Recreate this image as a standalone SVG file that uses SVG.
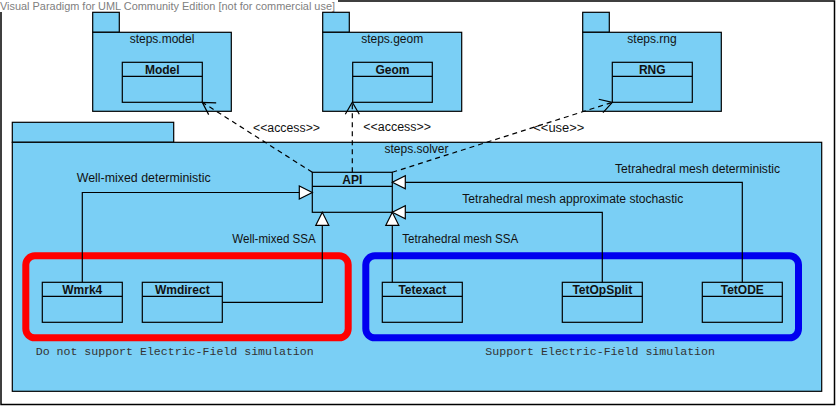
<svg xmlns="http://www.w3.org/2000/svg" width="836" height="406" viewBox="0 0 836 406">
<style>
.pkg{fill:#7ACFF5;stroke:#000;stroke-width:1.2}
.cls{fill:#7ACFF5;stroke:#000;stroke-width:1.2}
.hdr{fill:none;stroke:#000;stroke-width:1.2}
.pl{font-family:"Liberation Sans","DejaVu Sans",Arial,sans-serif;font-size:12px;fill:#111;text-anchor:middle}
.cn{font-family:"Liberation Sans","DejaVu Sans",Arial,sans-serif;font-size:12px;font-weight:bold;fill:#111;text-anchor:middle}
.lb{font-family:"Liberation Sans","DejaVu Sans",Arial,sans-serif;font-size:12px;fill:#111}
.mono{font-family:"Liberation Mono","Courier New",monospace;font-size:11.6px;fill:#333}
.gen{fill:none;stroke:#000;stroke-width:1.2;marker-end:url(#tri)}
.dep{fill:none;stroke:#000;stroke-width:1.2;stroke-dasharray:5,4;marker-end:url(#open)}
</style>
<defs>
<marker id="tri" markerUnits="userSpaceOnUse" markerWidth="20" markerHeight="20" refX="0" refY="0" orient="auto" overflow="visible">
<path d="M0,0 L-13,-6.5 L-13,6.5 Z" fill="#fff" stroke="#000" stroke-width="1.2" stroke-dasharray="none"/>
</marker>
<marker id="open" markerUnits="userSpaceOnUse" markerWidth="20" markerHeight="20" refX="0" refY="0" orient="auto" overflow="visible">
<path d="M-12,-7 L0,0 L-12,7" fill="none" stroke="#000" stroke-width="1.2" stroke-dasharray="none"/>
</marker>
</defs>
<rect x="0" y="0" width="836" height="406" fill="#fff"/>
<rect x="1" y="1" width="833.5" height="403.5" fill="none" stroke="#000" stroke-width="1.5"/>
<rect x="0" y="0" width="338" height="12" fill="#fff"/>
<text x="0" y="9.5" font-family="'Liberation Sans','DejaVu Sans',Arial,sans-serif" font-size="11.5" fill="#808080" textLength="335" lengthAdjust="spacingAndGlyphs">Visual Paradigm for UML Community Edition [not for commercial use]</text>

<g id="pkg-model">
<rect class="pkg" x="92.7" y="12.3" width="26.6" height="20"/>
<rect class="pkg" x="92.7" y="32.3" width="138.6" height="79"/>
<text class="pl" x="162" y="43.3">steps.model</text>
</g>
<g id="pkg-geom">
<rect class="pkg" x="322.7" y="12.3" width="26.6" height="20"/>
<rect class="pkg" x="322.7" y="32.3" width="139" height="79"/>
<text class="pl" x="392.2" y="43.3">steps.geom</text>
</g>
<g id="pkg-rng">
<rect class="pkg" x="582.7" y="12.3" width="26.6" height="20"/>
<rect class="pkg" x="582.7" y="32.3" width="138.6" height="79"/>
<text class="pl" x="652" y="43.3">steps.rng</text>
</g>
<g id="pkg-solver">
<rect class="pkg" x="12.3" y="122.3" width="161.4" height="20"/>
<rect class="pkg" x="12.3" y="142.3" width="809.4" height="249"/>
<text class="pl" x="416.5" y="153.3">steps.solver</text>
</g>

<g id="group-noef">
<rect x="25.8" y="255.8" width="322.4" height="82" rx="9" ry="9" fill="none" stroke="#FF0000" stroke-width="7"/>
<text class="mono" x="35.7" y="355" textLength="278" lengthAdjust="spacingAndGlyphs">Do not support Electric-Field simulation</text>
</g>
<g id="group-ef">
<rect x="365.8" y="255.8" width="432.7" height="82" rx="9" ry="9" fill="none" stroke="#0000F0" stroke-width="7"/>
<text class="mono" x="485.3" y="355" textLength="229.7" lengthAdjust="spacingAndGlyphs">Support Electric-Field simulation</text>
</g>

<g id="cls-model">
<rect class="cls" x="122.3" y="62.3" width="80" height="40"/>
<line class="hdr" x1="122.3" y1="76.3" x2="202.3" y2="76.3"/>
<text class="cn" x="162.3" y="73.5">Model</text>
</g>
<g id="cls-geom">
<rect class="cls" x="352.7" y="62.3" width="79.6" height="40"/>
<line class="hdr" x1="352.7" y1="76.3" x2="432.3" y2="76.3"/>
<text class="cn" x="392.5" y="73.5">Geom</text>
</g>
<g id="cls-rng">
<rect class="cls" x="612.3" y="62.3" width="80" height="40"/>
<line class="hdr" x1="612.3" y1="76.3" x2="692.3" y2="76.3"/>
<text class="cn" x="652.3" y="73.5">RNG</text>
</g>
<g id="cls-api">
<rect class="cls" x="312.3" y="172.3" width="80" height="40"/>
<line class="hdr" x1="312.3" y1="186.3" x2="392.3" y2="186.3"/>
<text class="cn" x="352.3" y="183.5">API</text>
</g>
<g id="cls-wmrk4">
<rect class="cls" x="42.3" y="282.3" width="80" height="40"/>
<line class="hdr" x1="42.3" y1="296.3" x2="122.3" y2="296.3"/>
<text class="cn" x="82.3" y="293.5">Wmrk4</text>
</g>
<g id="cls-wmdirect">
<rect class="cls" x="142.3" y="282.3" width="80" height="40"/>
<line class="hdr" x1="142.3" y1="296.3" x2="222.3" y2="296.3"/>
<text class="cn" x="182.3" y="293.5">Wmdirect</text>
</g>
<g id="cls-tetexact">
<rect class="cls" x="382.3" y="282.3" width="80" height="40"/>
<line class="hdr" x1="382.3" y1="296.3" x2="462.3" y2="296.3"/>
<text class="cn" x="422.3" y="293.5">Tetexact</text>
</g>
<g id="cls-tetopsplit">
<rect class="cls" x="562.3" y="282.3" width="80" height="40"/>
<line class="hdr" x1="562.3" y1="296.3" x2="642.3" y2="296.3"/>
<text class="cn" x="602.3" y="293.5">TetOpSplit</text>
</g>
<g id="cls-tetode">
<rect class="cls" x="702.3" y="282.3" width="80" height="40"/>
<line class="hdr" x1="702.3" y1="296.3" x2="782.3" y2="296.3"/>
<text class="cn" x="742.3" y="293.5">TetODE</text>
</g>

<g id="connectors">
<polyline class="gen" points="82.3,282.3 82.3,192.5 312.3,192.5"/>
<polyline class="gen" points="222.3,302.3 322.3,302.3 322.3,212.3"/>
<polyline class="gen" points="392.3,282.3 392.3,212.3"/>
<polyline class="gen" points="602.3,282.3 602.3,212.3 392.3,212.3"/>
<polyline class="gen" points="742.3,282.3 742.3,182.3 392.3,182.3"/>
<line class="dep" x1="312.3" y1="172.3" x2="202.3" y2="102.3"/>
<line class="dep" x1="352.3" y1="172.3" x2="352.3" y2="102.3"/>
<line class="dep" x1="392.3" y1="172.3" x2="612.3" y2="102.3"/>
<text class="lb" x="76.7" y="182.3" textLength="134" lengthAdjust="spacingAndGlyphs">Well-mixed deterministic</text>
<text class="lb" x="232.3" y="242.7" textLength="83.4" lengthAdjust="spacingAndGlyphs">Well-mixed SSA</text>
<text class="lb" x="402.3" y="242.7" textLength="116" lengthAdjust="spacingAndGlyphs">Tetrahedral mesh SSA</text>
<text class="lb" x="462.3" y="203.3" textLength="221" lengthAdjust="spacingAndGlyphs">Tetrahedral mesh approximate stochastic</text>
<text class="lb" x="615" y="172.7" textLength="165" lengthAdjust="spacingAndGlyphs">Tetrahedral mesh deterministic</text>
<text class="lb" x="253" y="132.3" textLength="67" lengthAdjust="spacingAndGlyphs">&lt;&lt;access&gt;&gt;</text>
<text class="lb" x="363.3" y="130.5" textLength="67.7" lengthAdjust="spacingAndGlyphs">&lt;&lt;access&gt;&gt;</text>
<text class="lb" x="533.3" y="131.7" textLength="51" lengthAdjust="spacingAndGlyphs">&lt;&lt;use&gt;&gt;</text>
</g>
</svg>
